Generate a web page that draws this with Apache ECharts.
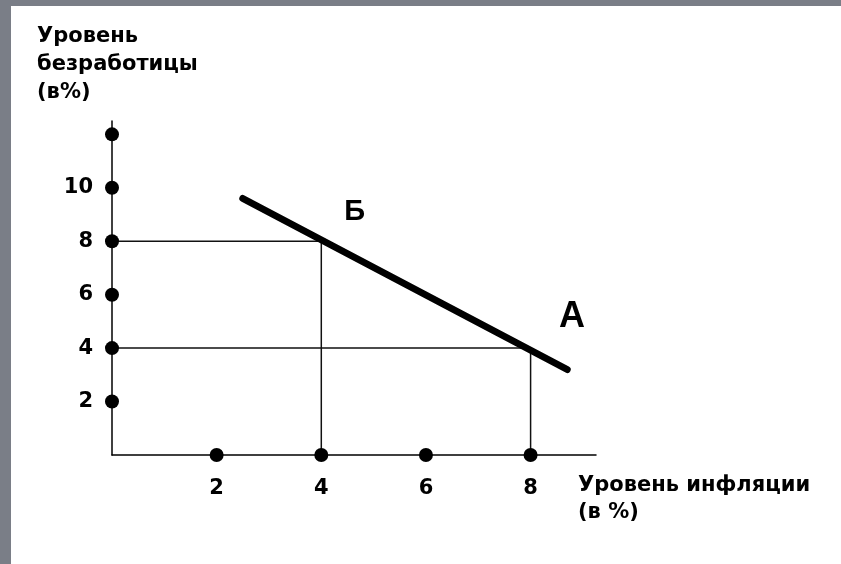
<!DOCTYPE html>
<html>
<head>
<meta charset="utf-8">
<script src="https://cdn.jsdelivr.net/npm/echarts@6/dist/echarts.min.js"></script>
<style>
  html, body { margin: 0; padding: 0; background: #fff; }
  #chart { width: 841px; height: 564px; }
</style>
</head>
<body>
<div id="chart"></div>
<script>
// оси
var xTicks = [2, 4, 6, 8];
var yTicks = [2, 4, 6, 8, 10, 12];
var yTickLabels = ['2', '4', '6', '8', '10'];
var xTickLabels = ['2', '4', '6', '8'];

// кривая Филлипса (начало и конец отрезка)
var curve = [[2.5, 9.6], [8.7, 3.2]];

// точки Б и А с проекциями на оси
var pointB = [4, 8];
var pointA = [8, 4];

// подписи точек
var pointNames = ['Б', 'А'];
var pointLabelPos = [[4.64, 9.09], [8.79, 5.16]];

var yTitle = 'Уровень\nбезработицы\n(в%)';
var xTitle = 'Уровень инфляции\n(в %)';

var FONT = 'DejaVu Sans';

function guide(p){
    return [[0, p[1]], [p[0], p[1]], [p[0], 0]];
}

var chart = echarts.init(document.getElementById('chart'), null, {renderer: 'canvas'});

var option = {
    backgroundColor: '#fff',
    animation: false,
    grid: {left: 112, top: 121, width: 484, height: 334},
    xAxis: {
        type: 'value', min: 0, max: 9.25, interval: 2,
        axisLine: {show: true, onZero: false, lineStyle: {color: '#000', width: 1.5}},
        axisTick: {show: false},
        splitLine: {show: false},
        axisLabel: {
            margin: 23, color: '#000', fontFamily: FONT, fontWeight: 'bold', fontSize: 21,
            showMaxLabel: false,
            formatter: function(v){ return xTickLabels.indexOf(String(v)) >= 0 ? String(v) : ''; }
        }
    },
    yAxis: {
        type: 'value', min: 0, max: 12.5, interval: 2,
        axisLine: {show: true, onZero: false, lineStyle: {color: '#000', width: 1.5}},
        axisTick: {show: false},
        splitLine: {show: false},
        axisLabel: {
            margin: 19, color: '#000', fontFamily: FONT, fontWeight: 'bold', fontSize: 21,
            showMaxLabel: false,
            formatter: function(v){ return yTickLabels.indexOf(String(v)) >= 0 ? String(v) : ''; }
        }
    },
    graphic: [
        {type: 'rect', left: 0, top: 0, z: 100, shape: {width: 841, height: 6}, style: {fill: '#7a7e87'}},
        {type: 'rect', left: 0, top: 0, z: 100, shape: {width: 11, height: 564}, style: {fill: '#7a7e87'}},
        {type: 'text', left: 37, top: 23, style: {
            text: yTitle, fill: '#000', font: 'bold 21px "' + FONT + '"', lineHeight: 28
        }},
        {type: 'text', left: 578, top: 472, style: {
            text: xTitle, fill: '#000', font: 'bold 21px "' + FONT + '"', lineHeight: 27
        }}
    ],
    series: [
        {
            type: 'line', data: guide(pointB), symbol: 'none', z: 2,
            lineStyle: {color: '#111', width: 1.5}
        },
        {
            type: 'line', data: guide(pointA), symbol: 'none', z: 2,
            lineStyle: {color: '#111', width: 1.5}
        },
        {
            type: 'line', data: curve, symbol: 'none', z: 3,
            lineStyle: {color: '#000', width: 7, cap: 'round'}
        },
        {
            type: 'scatter', symbol: 'circle', symbolSize: 14, z: 4, clip: false,
            itemStyle: {color: '#000', opacity: 1},
            data: yTicks.map(function(v){ return [0, v]; }).concat(xTicks.map(function(v){ return [v, 0]; }))
        },
        {
            type: 'scatter', symbolSize: 0, z: 5, clip: false,
            itemStyle: {opacity: 1},
            data: pointLabelPos.map(function(p, i){
                return {
                    value: p,
                    label: {
                        show: true, position: 'inside', formatter: pointNames[i],
                        color: '#000', opacity: 1, fontFamily: 'Liberation Sans', fontWeight: 'bold',
                        fontSize: i === 0 ? 29 : 36
                    }
                };
            })
        }
    ]
};
chart.setOption(option);
</script>
</body>
</html>
